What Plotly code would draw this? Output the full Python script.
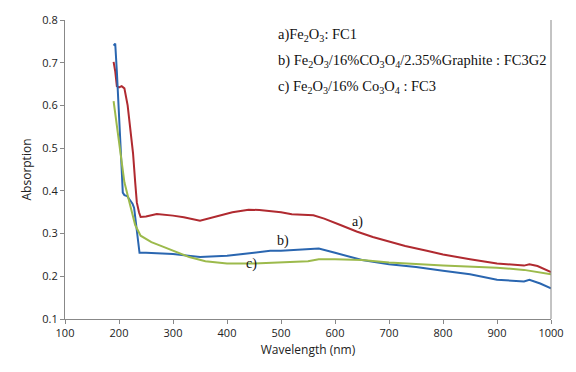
import plotly.graph_objects as go

wl_a = [190, 193, 196, 200, 205, 210, 216, 222, 226, 230, 233, 237, 240, 250, 270, 300, 320, 350, 380, 410, 440, 460, 500, 520, 560, 580, 610, 640, 670, 700, 730, 770, 800, 850, 900, 950, 960, 975, 990, 1000]
abs_a = [0.702, 0.68, 0.645, 0.642, 0.645, 0.64, 0.60, 0.54, 0.488, 0.42, 0.373, 0.35, 0.339, 0.34, 0.346, 0.342, 0.338, 0.33, 0.34, 0.35, 0.356, 0.355, 0.35, 0.345, 0.343, 0.335, 0.32, 0.305, 0.292, 0.281, 0.271, 0.26, 0.251, 0.24, 0.23, 0.225, 0.228, 0.224, 0.215, 0.21]

wl_b = [190, 193, 196, 200, 205, 207, 210, 215, 220, 225, 228, 233, 238, 250, 300, 350, 400, 450, 480, 500, 540, 570, 600, 630, 650, 700, 750, 800, 850, 900, 950, 960, 980, 1000]
abs_b = [0.74, 0.745, 0.68, 0.56, 0.45, 0.396, 0.39, 0.388, 0.38, 0.37, 0.36, 0.31, 0.255, 0.255, 0.252, 0.245, 0.248, 0.255, 0.26, 0.26, 0.262, 0.265, 0.255, 0.245, 0.238, 0.228, 0.222, 0.213, 0.205, 0.192, 0.188, 0.192, 0.183, 0.172]

wl_c = [190, 195, 200, 210, 220, 230, 240, 260, 280, 300, 330, 360, 400, 450, 500, 550, 570, 600, 650, 700, 800, 900, 950, 1000]
abs_c = [0.61, 0.56, 0.52, 0.42, 0.37, 0.32, 0.295, 0.28, 0.27, 0.26, 0.245, 0.235, 0.23, 0.23, 0.232, 0.235, 0.24, 0.24, 0.238, 0.232, 0.225, 0.22, 0.215, 0.205]

x_ticks = [100, 200, 300, 400, 500, 600, 700, 800, 900, 1000]
y_ticks = [0.1, 0.2, 0.3, 0.4, 0.5, 0.6, 0.7, 0.8]

curve_labels = ["a)", "b)", "c)"]
label_x = [641, 503, 445]
label_y = [0.327, 0.283, 0.228]

legend_lines = [
    "a)Fe<sub>2</sub>O<sub>3</sub>: FC1",
    "b) Fe<sub>2</sub>O<sub>3</sub>/16%CO<sub>3</sub>O<sub>4</sub>/2.35%Graphite : FC3G2",
    "c) Fe<sub>2</sub>O<sub>3</sub>/16% Co<sub>3</sub>O<sub>4</sub> : FC3",
]

fig = go.Figure()
fig.add_trace(go.Scatter(x=wl_a, y=abs_a, mode="lines", line=dict(color="#b02a30", width=2)))
fig.add_trace(go.Scatter(x=wl_b, y=abs_b, mode="lines", line=dict(color="#2a66b0", width=2)))
fig.add_trace(go.Scatter(x=wl_c, y=abs_c, mode="lines", line=dict(color="#9cba4c", width=2)))

for t, xx, yy in zip(curve_labels, label_x, label_y):
    fig.add_annotation(x=xx, y=yy, text=t, showarrow=False,
                       font=dict(family="Liberation Serif", size=14, color="#111"))

for i, t in enumerate(legend_lines):
    fig.add_annotation(xref="paper", yref="paper", x=0.435, y=0.95 - i * 0.087,
                       xanchor="left", yanchor="middle", text=t, showarrow=False,
                       font=dict(family="Liberation Serif", size=14.5, color="#111"))

fig.add_shape(type="line", xref="paper", yref="paper", x0=1, x1=1, y0=0, y1=1,
              line=dict(color="#888", width=1))

fig.update_layout(
    width=576, height=372,
    margin=dict(l=65, r=20, t=14, b=53),
    paper_bgcolor="white", plot_bgcolor="white",
    showlegend=False,
    font=dict(family="Open Sans", size=11, color="#222"),
)
fig.update_xaxes(range=[100, 1000], tickvals=x_ticks, showgrid=False, zeroline=False,
                 showline=True, linecolor="#888", ticks="outside", tickcolor="#888", ticklen=4,
                 title=dict(text="Wavelength (nm)", font=dict(size=12), standoff=6))
fig.update_yaxes(range=[0.1, 0.8], tickvals=y_ticks, tickformat=".1f", showgrid=False, zeroline=False,
                 showline=True, linecolor="#888", ticks="outside", tickcolor="#888", ticklen=4,
                 title=dict(text="Absorption", font=dict(size=12), standoff=8))

fig.write_html("out.html")
